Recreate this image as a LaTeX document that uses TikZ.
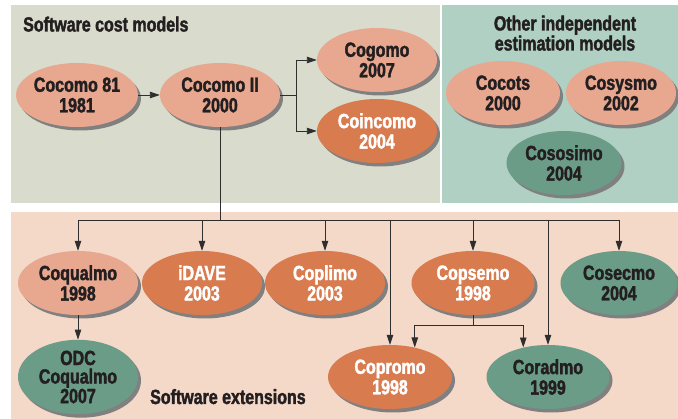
\documentclass[tikz,border=0pt]{standalone}
\usepackage{fontspec}
\setmainfont{Liberation Sans}[FakeStretch=0.78,BoldFeatures={FakeBold=1.8}]
\usetikzlibrary{shapes.geometric,shadows,arrows.meta}
\definecolor{costbg}{HTML}{D9DCCC}
\definecolor{indepbg}{HTML}{B0D0C3}
\definecolor{extbg}{HTML}{F4D8C8}
\definecolor{palefill}{HTML}{E8A78F}
\definecolor{deepfill}{HTML}{D87C4F}
\definecolor{seafill}{HTML}{6B9C88}
\definecolor{ink}{HTML}{231F20}
\definecolor{wirecol}{HTML}{2E2E2E}
\tikzset{
  model/.style={ellipse,inner sep=0pt,minimum width=120pt,minimum height=64pt,
    align=center,font=\bfseries\fontsize{20.5}{20.5}\selectfont,
    drop shadow={shadow xshift=3pt,shadow yshift=-3.5pt,fill=black!50,opacity=1}},
  pale/.style={model,fill=palefill,text=ink},
  deep/.style={model,fill=deepfill,text=white},
  sea/.style={model,fill=seafill,text=ink},
  wire/.style={line width=0.9pt,draw=wirecol},
  arr/.style={wire,-{Triangle[length=10pt,width=6.5pt]}},
  paneltitle/.style={font=\bfseries\fontsize{20.5}{20}\selectfont,text=ink,inner sep=0pt}
}
\begin{document}
\begin{tikzpicture}[x=1pt,y=-1pt]
\useasboundingbox (0,0) rectangle (678,419);
% panels
\fill[costbg] (11,5) rectangle (439.5,203);
\fill[indepbg] (441.5,5) rectangle (678,203);
\fill[extbg] (11,212) rectangle (678,419);
\node[paneltitle,anchor=base west] (costtitle) at (23,31.5) {Software cost models};
\node[paneltitle,align=center,anchor=base] (indeptitle) at (565,50.5) {Other independent\\estimation models};
\node[paneltitle,anchor=base west] (exttitle) at (150,404) {Software extensions};
% models
\node[pale] (c81) at (77,95) {Cocomo 81\\1981};
\node[pale] (c2) at (220,95) {Cocomo II\\2000};
\node[pale] (cogomo) at (377,60) {Cogomo\\2007};
\node[deep] (coincomo) at (377,131) {Coincomo\\2004};
\node[pale,minimum width=114pt] (cocots) at (503,93) {Cocots\\2000};
\node[pale,minimum width=110pt] (cosysmo) at (621,93) {Cosysmo\\2002};
\node[sea,minimum width=115pt] (cososimo) at (564,163) {Cososimo\\2004};
\node[pale] (coqualmo) at (78,283) {Coqualmo\\1998};
\node[deep] (idave) at (202,283) {iDAVE\\2003};
\node[deep] (coplimo) at (325,283) {Coplimo\\2003};
\node[deep,minimum width=123pt] (copsemo) at (473,283) {Copsemo\\1998};
\node[sea,minimum width=117pt] (cosecmo) at (619,283) {Cosecmo\\2004};
\node[sea,font=\bfseries\fontsize{20.5}{18.5}\selectfont] (odc) at (78,377) {ODC\\Coqualmo\\2007};
\node[deep,minimum width=124pt] (copromo) at (390,377) {Copromo\\1998};
\node[sea,minimum width=123pt] (coradmo) at (548,377) {Coradmo\\1999};
% connectors
\draw[arr] (c81) -- (c2);
\draw[wire] (c2.east) -- ++(16,0) coordinate (fork);
\draw[wire] (fork |- cogomo) -- (fork |- coincomo);
\draw[arr] (fork |- cogomo) -- (cogomo.west);
\draw[arr] (fork |- coincomo) -- (coincomo.west);
\draw[wire] (c2.south) -- (220,220) coordinate (bus);
\draw[wire] (bus -| coqualmo.north) -- (bus -| cosecmo.north);
\foreach \m in {coqualmo,idave,coplimo,copsemo,cosecmo,copromo,coradmo}
	\draw[arr] (bus -| \m.north) -- (\m.north);
\draw[arr] (coqualmo) -- (odc);
\draw[wire] (copsemo.south) -- ++(0,10) coordinate (split);
\draw[wire] (split -| copromo.50) -- (split -| coradmo.130);
\draw[arr] (split -| copromo.50) -- (copromo.50);
\draw[arr] (split -| coradmo.130) -- (coradmo.130);
\end{tikzpicture}
\end{document}
